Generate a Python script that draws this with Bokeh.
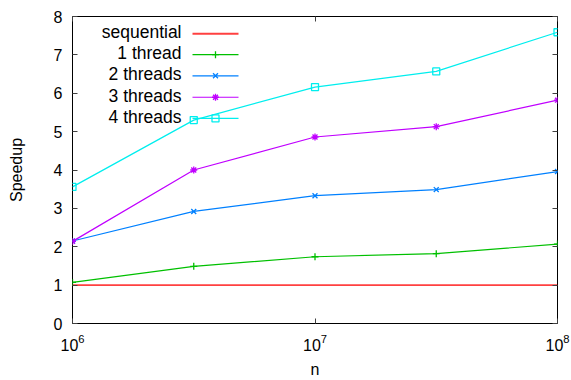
from bokeh.plotting import figure
from bokeh.models import Range1d, LogAxis, LinearAxis, FixedTicker
from bokeh.core.properties import value
from bokeh.embed import file_html
from bokeh.resources import INLINE

# ---- data ----
n = [1000000, 3162278, 10000000, 31622777, 100000000]
sequential = [1.0, 1.0, 1.0, 1.0, 1.0]
thread1 = [1.07, 1.49, 1.74, 1.82, 2.07]
threads2 = [2.15, 2.92, 3.33, 3.49, 3.96]
threads3 = [2.14, 4.00, 4.86, 5.13, 5.82]
threads4 = [3.56, 5.30, 6.16, 6.57, 7.59]
labels = ["sequential", "1 thread", "2 threads", "3 threads", "4 threads"]
colors = ["#ff0000", "#00c000", "#0080ff", "#c000ff", "#00eeee"]
markers = [None, "cross", "x", "asterisk", "square"]
y_ticks = [0, 1, 2, 3, 4, 5, 6, 7, 8]
x_ticks = [1000000, 10000000, 100000000]

FONT = "Liberation Sans"

# frame geometry (pixels)
W, H = 571, 380
FL, FR, FT, FB = 72, 557, 16, 324

p = figure(width=W, height=H, x_axis_type="log",
           x_range=Range1d(1e6, 1e8), y_range=Range1d(0, 8),
           output_backend="svg", toolbar_location=None,
           min_border_left=FL, min_border_right=W - FR,
           min_border_top=FT, min_border_bottom=H - FB)
p.xgrid.visible = False
p.ygrid.visible = False
p.outline_line_color = "black"
p.outline_line_width = 1
p.outline_line_alpha = 1
p.background_fill_color = "white"
p.border_fill_color = "white"


def style_axis(ax, show_labels=True):
    ax.major_tick_in = 5
    ax.major_tick_out = 0
    ax.minor_tick_in = 0
    ax.minor_tick_out = 0
    ax.major_tick_line_color = "#404040"
    ax.axis_line_color = None
    ax.major_label_text_font = FONT
    ax.major_label_text_font_size = "16px"
    ax.major_label_text_color = "black"
    ax.axis_label_text_font = FONT
    ax.axis_label_text_font_size = "16px"
    ax.axis_label_text_font_style = "normal"
    ax.axis_label_text_color = "black"
    if not show_labels:
        ax.major_label_text_font_size = "1px"
        ax.major_label_text_alpha = 0
        ax.major_label_standoff = 0


style_axis(p.xaxis[0])
style_axis(p.yaxis[0])
p.xaxis[0].ticker = FixedTicker(ticks=x_ticks)
p.yaxis[0].ticker = FixedTicker(ticks=y_ticks)
p.xaxis[0].axis_label = "n"
p.yaxis[0].axis_label = "Speedup"
p.xaxis[0].major_label_standoff = 10
p.yaxis[0].major_label_standoff = 10
p.xaxis[0].axis_label_standoff = 7
p.yaxis[0].axis_label_standoff = 26

right = LinearAxis(ticker=FixedTicker(ticks=y_ticks))
style_axis(right, show_labels=False)
p.add_layout(right, "right")
top = LogAxis(ticker=FixedTicker(ticks=x_ticks))
style_axis(top, show_labels=False)
p.add_layout(top, "above")

MS = 7
series = [sequential, thread1, threads2, threads3, threads4]
for ys, c, m in zip(series, colors, markers):
    p.line(n, ys, line_color=c, line_width=1.2 if m else 1.8,
           line_alpha=1.0 if m else 0.75)
    if m:
        p.scatter(n, ys, marker=m, size=MS, line_color=c, fill_color=None,
                  line_width=1.3)

# ---- gnuplot-style legend (label, then sample) ----
def px_x(px):
    return 10 ** (6 + (px - FL) / (FR - FL) * 2)


def px_y(py):
    return (FB - py) / (FB - FT) * 8


leg_y = [33.3, 54.3, 75.5, 97.0, 118.3]
txt_x = 181
s0, s1, sm = 192, 238, 215
p.text(x=[px_x(txt_x)] * 5, y=[px_y(v - 1.5) for v in leg_y], text=labels,
       text_align="right", text_baseline="middle",
       text_font=value(FONT), text_font_size="17.5px", text_color="black")
for yy, c, m in zip(leg_y, colors, markers):
    p.line([px_x(s0), px_x(s1)], [px_y(yy), px_y(yy)], line_color=c,
           line_width=1.2 if m else 1.8, line_alpha=1.0 if m else 0.75)
    if m:
        p.scatter([px_x(sm)], [px_y(yy)], marker=m, size=MS, line_color=c,
                  fill_color=None, line_width=1.3)

open("out.html", "w").write(file_html(p, INLINE))
